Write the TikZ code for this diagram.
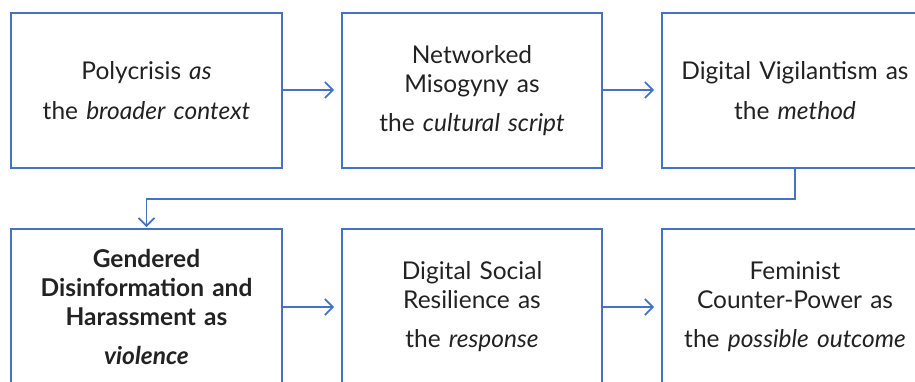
\documentclass[tikz,border=0pt]{standalone}
\usepackage{fontspec}
\setmainfont{Lato}
\usetikzlibrary{arrows.meta}
\definecolor{edgeblue}{HTML}{4472C4}
\definecolor{ink}{HTML}{222222}
\begin{document}
\begin{tikzpicture}[x=1pt,y=1pt,
  stage/.style={draw=edgeblue, line width=1.8pt, rectangle, minimum height=155pt,
    inner sep=0pt, text=ink, align=center, font=\fontsize{24.5}{29}\selectfont},
  flow/.style={draw=edgeblue, line width=1.7pt,
    -{Straight Barb[length=8pt,width=16pt,line width=1.7pt]}}]
\useasboundingbox (0,0) rectangle (915,-381);
% top row
\node[stage, minimum width=271pt, text width=266pt] (b1) at (146.5,-90.5)
  {Polycrisis \textit{as}\\[11pt]the \textit{broader context}};
\node[stage, minimum width=260pt, text width=256pt] (b2) at (472,-90.5)
  {Networked\\Misogyny as\\[10pt]the \textit{cultural script}};
\node[stage, minimum width=266pt, text width=262pt] (b3) at (795,-90.5)
  {Digital Vigilantism as\\[11pt]the \textit{method}};
% bottom row
\node[stage, minimum width=271pt, minimum height=156pt, text width=266pt] (b4) at (146.5,-307)
  {\bfseries Gendered\\\bfseries Disinformation and\\\bfseries Harassment as\\[10pt]\bfseries\itshape violence};
\node[stage, minimum width=260pt, minimum height=156pt, text width=256pt] (b5) at (472,-307)
  {Digital Social\\Resilience as\\[10pt]the \textit{response}};
\node[stage, minimum width=266pt, minimum height=156pt, text width=262pt] (b6) at (795,-307)
  {Feminist\\Counter-Power as\\[10pt]the \textit{possible outcome}};
% connectors
\draw[flow, shorten >=7pt] (b1.east |- 0,-90) -- (b2.west |- 0,-90);
\draw[flow, shorten >=7pt] (b2.east |- 0,-90) -- (b3.west |- 0,-90);
\draw[flow, shorten >=1pt] (b3.south) -- ++(0,-30) coordinate (turn) -| (b4.north);
\draw[flow, shorten >=7pt] (b4.east |- 0,-307) -- (b5.west |- 0,-307);
\draw[flow, shorten >=7pt] (b5.east |- 0,-307) -- (b6.west |- 0,-307);
\end{tikzpicture}
\end{document}
